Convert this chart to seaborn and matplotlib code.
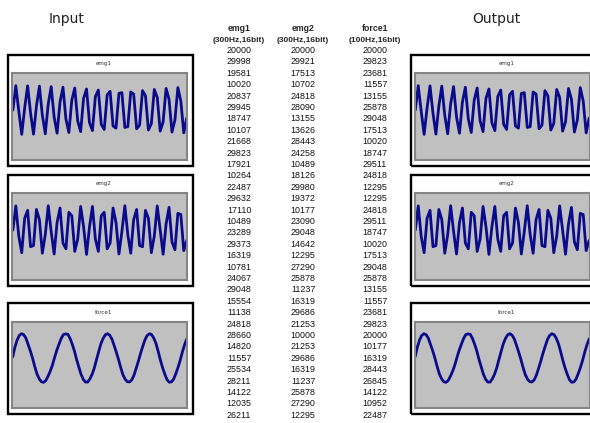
import matplotlib
matplotlib.use("Agg")
import matplotlib.pyplot as plt
from matplotlib.patches import Rectangle
import seaborn as sns
import pandas as pd

# channel samples (first 33 are listed in the table)
emg1 = [20000, 29998, 19581, 10020, 20837, 29945, 18747, 10107, 21668, 29823,
        17921, 10264, 22487, 29632, 17110, 10489, 23289, 29373, 16319, 10781,
        24067, 29048, 15554, 11138, 24818, 28660, 14820, 11557, 25534, 28211,
        14122, 12035, 26211, 27703, 13463, 12570, 26847, 27144, 12854, 13156,
        27434, 26532, 12293, 13786, 27966, 25878, 11785, 14464, 28447, 25184,
        11342, 15184, 28863, 24446, 10949, 15930, 29220, 23680, 10627, 16711]
emg2 = [20000, 29921, 17513, 10702, 24818, 28090, 13155, 13626, 28443, 24258,
        10489, 18126, 29980, 19372, 10177, 23090, 29048, 14642, 12295, 27290,
        25878, 11237, 16319, 29686, 21253, 10000, 21253, 29686, 16319, 11237,
        25878, 27290, 12295, 14642, 29048, 23090, 10177, 19372, 29980, 18126,
        10489, 24258, 28443, 13626, 13155, 28090, 24818, 10702, 17513, 29921,
        20000, 10079, 22487, 29298, 15182, 11910, 26845, 26374, 11557, 15742]
force1_table = [20000, 29823, 23681, 11557, 13155, 25878, 29048, 17513, 10020, 18747,
                29511, 24818, 12295, 12295, 24818, 29511, 18747, 10020, 17513, 29048,
                25878, 13155, 11557, 23681, 29823, 20000, 10177, 16319, 28443, 26845,
                14122, 10952, 22487]
# force curve as drawn in the panels
force1 = [20500, 24500, 27400, 29300, 30000, 29570, 28130, 25500, 22900, 19900,
          16480, 13450, 11510, 10260, 10040, 10760, 12520, 14570, 17120, 20300,
          23260, 25730, 28070, 29650, 29900, 29750, 28050, 25670, 22840, 19340,
          16300, 13290, 11230, 10140, 10140, 11430, 13290, 15900, 19340, 22640,
          25870, 28050, 29550, 30000, 29370, 27780, 25170, 22400, 19390, 16060,
          13140, 11320, 10300, 10200, 11030, 12930, 15780, 18700, 21950, 24800,
          27510, 29240, 29980, 29630, 28170, 25970, 22690, 19120, 16020, 13380,
          11120, 10090, 10190, 11340, 13610, 16170, 19150, 22590, 25560, 27930]

channels = ["emg1", "emg2", "force1"]
headers = ["(300Hz,16bit)", "(300Hz,16bit)", "(100Hz,16bit)"]
series = [emg1, emg2, force1]
table_cols = [emg1[:33], emg2[:33], force1_table]

W, H = 590, 423
fig = plt.figure(figsize=(5.9, 4.23), dpi=100)
fig.patch.set_facecolor("white")
sns.set_style("white")

def fx(x):
    return x / W

def fy(y):
    return 1 - y / H

box_tops = [55, 175, 303]
box_h = 111
col_left = [8.3, 410.7]
line_color = "#0a0a8c"

for left in col_left:
    for top, name, vals in zip(box_tops, channels, series):
        # outer frame
        fig.patches.append(Rectangle((fx(left), fy(top + box_h)), 184.7 / W, box_h / H,
                                     transform=fig.transFigure, fill=False,
                                     edgecolor="black", linewidth=1.7, zorder=0))
        fig.text(fx(left + 95.7), fy(top + 9), name, fontsize=4, ha="center",
                 va="center", color="#333333")
        ax = fig.add_axes([fx(left + 4), fy(top + 105), 175 / W, 86.5 / H])
        ax.set_facecolor("#c0c0c0")
        df = pd.DataFrame({"i": range(len(vals)), "v": vals})
        sns.lineplot(data=df, x="i", y="v", ax=ax, color=line_color, linewidth=2.0,
                     solid_joinstyle="round", solid_capstyle="round")
        ax.set_xlim(-0.2, len(vals) - 0.8)
        ax.set_ylim(-500, 35000)
        ax.set_xticks([])
        ax.set_yticks([])
        ax.set_xlabel("")
        ax.set_ylabel("")
        for s in ax.spines.values():
            s.set_color("#858585")
            s.set_linewidth(1.5)

fig.text(fx(67), fy(19), "Input", fontsize=10, ha="center", va="center",
         family="DejaVu Sans", color="#222222")
fig.text(fx(496), fy(19), "Output", fontsize=10, ha="center", va="center",
         family="DejaVu Sans", color="#222222")

col_x = [239, 303, 375]
for cx, name, hdr, col in zip(col_x, channels, headers, table_cols):
    fig.text(fx(cx), fy(28.5), name, fontsize=6.3, weight="bold", ha="center",
             va="center", family="Liberation Sans")
    fig.text(fx(cx), fy(40), hdr, fontsize=6.0, weight="bold", ha="center",
             va="center", family="Liberation Sans")
    for k, v in enumerate(col):
        fig.text(fx(cx), fy(50.5 + k * 11.4), str(v), fontsize=6.4, ha="center",
                 va="center", family="Liberation Sans", color="#111111")

fig.savefig("out.png", dpi=100)
